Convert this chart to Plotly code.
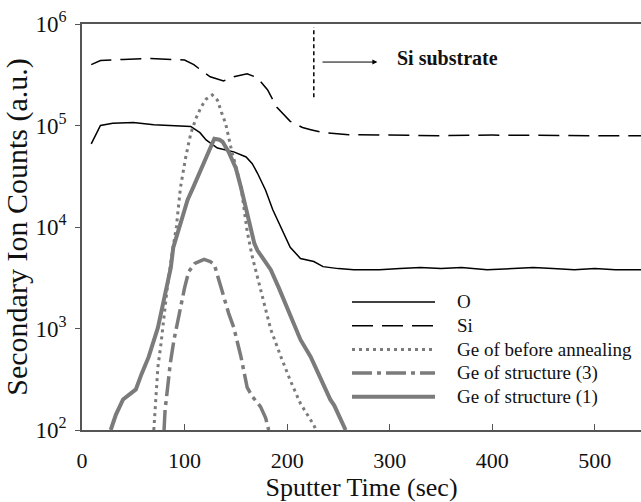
import plotly.graph_objects as go

# ---------------- data ----------------
o_time = [9, 18, 30, 50, 70, 90, 106, 115, 121, 132, 148, 160, 166, 171, 179, 186,
          194, 203, 213, 226, 235, 250, 265, 290, 310, 330, 350, 370, 395, 420,
          440, 459, 480, 500, 520, 545]
o_counts = [66000, 100000, 105000, 107000, 102000, 100000, 98000, 85000, 72000, 60000,
            55000, 49000, 42000, 34000, 23000, 14800, 10000, 6300, 4900, 4570, 4070,
            3890, 3800, 3800, 3890, 3980, 3890, 3980, 3800, 3890, 3980, 3890, 3800,
            3890, 3800, 3800]

si_time = [9, 18, 40, 67, 100, 109, 118, 125, 138, 148, 161, 171, 181, 190, 203, 215,
           223, 235, 260, 300, 350, 400, 450, 500, 545]
si_counts = [398000, 437000, 447000, 457000, 442000, 398000, 339000, 302000, 275000,
             302000, 324000, 295000, 224000, 151000, 110000, 95500, 91000, 85000,
             81300, 80400, 79400, 80400, 79400, 79400, 79400]

ge0_time = [70, 72, 74, 77, 80, 84, 88, 92, 96, 101, 106, 111, 116, 121, 127, 132, 136,
            140, 145, 150, 155, 158, 161, 166, 174, 184, 194, 203, 213, 220, 226, 228]
ge0_counts = [100, 200, 417, 708, 1260, 3000, 5600, 10000, 24500, 48000, 83000, 117000,
              151000, 182000, 200000, 178000, 135000, 105000, 62000, 40000, 25000,
              15100, 9100, 5100, 2400, 980, 525, 309, 182, 138, 112, 100]

ge3_time = [80, 81, 83.5, 86, 89.7, 96, 100, 104, 110, 119, 125, 129, 132, 138, 143, 148,
            155, 161, 166, 174, 179, 182]
ge3_counts = [100, 158, 263, 447, 776, 1620, 2510, 3630, 4370, 4790, 4570, 4270, 3390,
              2040, 1410, 1020, 525, 263, 214, 170, 132, 100]

ge1_time = [28, 33, 40, 47, 52.5, 58, 65, 74, 80, 86.6, 89, 93, 103, 108, 116, 123, 129,
            134, 137, 143, 150, 155, 160, 164, 168, 171, 177, 184, 192, 200, 207, 213,
            223, 230, 236, 242, 246, 251, 257]
ge1_counts = [100, 141, 200, 224, 251, 355, 525, 1020, 2000, 3980, 6300, 8700, 18600,
              24000, 37000, 54000, 74100, 72400, 69200, 55000, 38000, 24500, 14800,
              10000, 6900, 5900, 4800, 3800, 2500, 1620, 1100, 776, 525, 363, 263, 200,
              174, 132, 100]

series_names = ["O", "Si", "Ge of before annealing", "Ge of structure (3)", "Ge of structure (1)"]

x_ticks = [0, 100, 200, 300, 400, 500]
y_ticks = [1e2, 1e3, 1e4, 1e5, 1e6]
y_ticktext = ["10<sup>2</sup>", "10<sup>3</sup>", "10<sup>4</sup>", "10<sup>5</sup>", "10<sup>6</sup>"]

boundary_time = 226
boundary_counts = [190000, 933000]
substrate_label = "Si substrate"

# ---------------- styles ----------------
FONT = "Liberation Serif, Times New Roman, serif"
GRAY = "#7b7b7b"
AX = "#555555"
styles = [
    dict(color="black", width=1.5, dash="solid"),
    dict(color="black", width=1.5, dash="21px,9px"),
    dict(color=GRAY, width=3, dash="3px,4px"),
    dict(color=GRAY, width=3.5, dash="20px,5px,4px,5px"),
    dict(color=GRAY, width=4, dash="solid"),
]
data = [(o_time, o_counts), (si_time, si_counts), (ge0_time, ge0_counts),
        (ge3_time, ge3_counts), (ge1_time, ge1_counts)]

fig = go.Figure()
for (t, c), name, st in zip(data, series_names, styles):
    fig.add_trace(go.Scatter(x=t, y=c, mode="lines", name=name, line=st,
                             showlegend=False))

# boundary marker (vertical dashed line)
fig.add_trace(go.Scatter(x=[boundary_time, boundary_time], y=boundary_counts, mode="lines",
                         line=dict(color="black", width=1.5, dash="4px,3px"),
                         showlegend=False, hoverinfo="skip"))

# arrow + label
fig.add_annotation(x=288, y=5.625, ax=233, ay=5.625, xref="x", yref="y", axref="x",
                   ayref="y", text="", showarrow=True, arrowhead=2, arrowsize=1,
                   arrowwidth=1, arrowcolor="black")
fig.add_annotation(x=305, y=5.665, xref="x", yref="y", text="<b>" + substrate_label + "</b>",
                   showarrow=False, xanchor="left", yanchor="middle",
                   font=dict(family=FONT, size=20, color="#111"))

# manual legend (paper coordinates)
leg_x0, leg_x1, leg_tx = 0.483, 0.6315, 0.667
leg_y0, leg_dy = 0.3153, 0.0584
for i, (name, st) in enumerate(zip(series_names, styles)):
    yy = leg_y0 - i * leg_dy
    fig.add_shape(type="line", xref="paper", yref="paper", x0=leg_x0, x1=leg_x1,
                  y0=yy, y1=yy, line=st)
    fig.add_annotation(x=leg_tx, y=yy, xref="paper", yref="paper", text=name,
                       showarrow=False, xanchor="left", yanchor="middle",
                       font=dict(family=FONT, size=19, color="#111"))

fig.update_layout(
    width=641, height=502,
    margin=dict(l=82, r=0, t=24, b=72),
    paper_bgcolor="white", plot_bgcolor="white",
    font=dict(family=FONT, color="#111"),
    showlegend=False,
)
fig.update_xaxes(range=[0, 545], showline=True, linecolor=AX, linewidth=1.5, mirror=True,
                 ticks="inside", ticklen=6, tickcolor=AX, tickwidth=1.2,
                 tickvals=x_ticks, showgrid=False, zeroline=False,
                 tickfont=dict(family=FONT, size=22, color="#111"),
                 ticklabelstandoff=10,
                 title=dict(text="Sputter Time (sec)", font=dict(family=FONT, size=26, color="#111"),
                            standoff=6))
fig.update_yaxes(type="log", range=[2, 6], showline=True, linecolor=AX, linewidth=1.5,
                 ticks="outside", ticklen=5, tickcolor=AX, tickwidth=1.2,
                 tickvals=y_ticks, ticktext=y_ticktext, showgrid=False, zeroline=False,
                 tickfont=dict(family=FONT, size=23, color="#111"),
                 ticklabelstandoff=4,
                 title=dict(text="Secondary Ion Counts (a.u.)",
                            font=dict(family=FONT, size=30, color="#111"), standoff=0))

fig.write_html("out.html")
